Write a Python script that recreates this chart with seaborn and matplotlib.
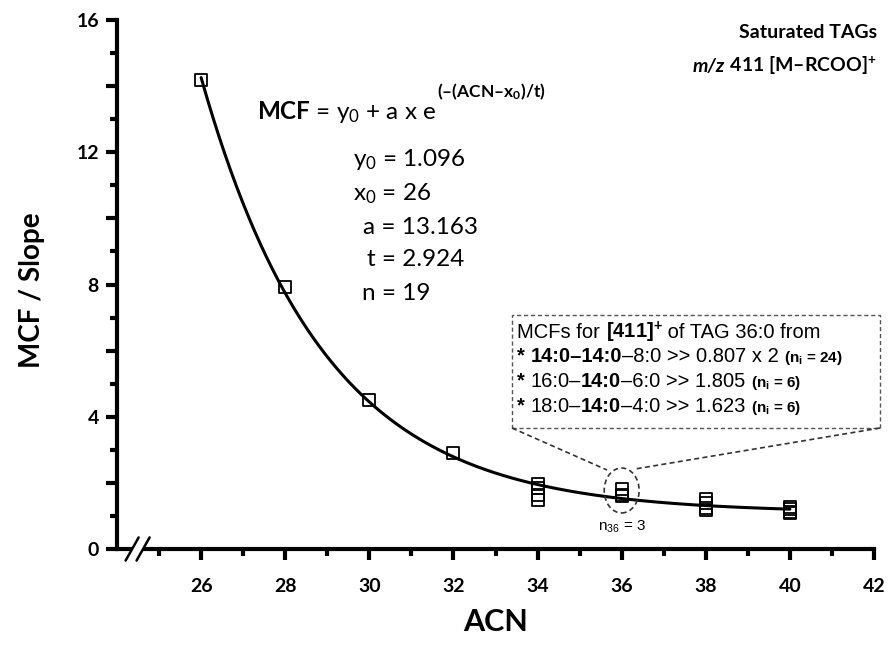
import numpy as np
import matplotlib
matplotlib.use("Agg")
import matplotlib.pyplot as plt
import seaborn as sns
from matplotlib.patches import Ellipse, Rectangle, Polygon
from matplotlib.lines import Line2D
from matplotlib.ticker import FixedLocator, MultipleLocator, FuncFormatter
from matplotlib.offsetbox import TextArea, HPacker, AnnotationBbox

# ---------------------------------------------------------------------------
# Data
# ---------------------------------------------------------------------------
acn = [26, 28, 30, 32,
       34, 34, 34, 34,
       36, 36, 36,
       38, 38, 38, 38,
       40, 40, 40, 40]
mcf = [14.19, 7.93, 4.51, 2.90,
       1.98, 1.85, 1.62, 1.48,
       1.805, 1.623, 1.614,
       1.50, 1.38, 1.25, 1.18,
       1.27, 1.20, 1.12, 1.08]

# fit parameters printed on the chart
y0, x0, a, t = 1.096, 26, 13.163, 2.924
n_points = 19

x_ticks = [26, 28, 30, 32, 34, 36, 38, 40, 42]
x_minor = [25, 27, 29, 31, 33, 35, 37, 39, 41]

# fitted curve from the printed parameters
acn_fit = np.linspace(26, 40, 200)
mcf_fit = y0 + a * np.exp(-(acn_fit - x0) / t)

# ---------------------------------------------------------------------------
# Style
# ---------------------------------------------------------------------------
sns.set_style("ticks")
plt.rcParams['font.family'] = ['Lato', 'DejaVu Sans']
plt.rcParams['mathtext.fontset'] = 'custom'
plt.rcParams['mathtext.rm'] = 'Lato'
plt.rcParams['mathtext.it'] = 'Lato:italic'
plt.rcParams['mathtext.bf'] = 'Lato:bold'
for key in ['text.color', 'axes.labelcolor', 'xtick.color', 'ytick.color', 'axes.edgecolor']:
    plt.rcParams[key] = 'black'

W, H = 889, 648


def px(x, y):
    """reference pixel position -> figure fraction"""
    return x / W, 1 - y / H


fig = plt.figure(figsize=(W / 100, H / 100), dpi=100)
ax = fig.add_axes([117 / W, 1 - 549 / H, (874 - 117) / W, (549 - 20) / H])

sns.lineplot(x=acn_fit, y=mcf_fit, color='black', lw=2.2, ax=ax)
sns.scatterplot(x=acn, y=mcf, marker='s', s=75, facecolor='none',
                edgecolor='black', linewidth=1.3, ax=ax, zorder=3)

ax.set_xlim(24, 42)
ax.set_ylim(0, 16)

# axes, ticks
for side in ['top', 'right']:
    ax.spines[side].set_visible(False)
for side in ['left', 'bottom']:
    ax.spines[side].set_linewidth(3)

ax.xaxis.set_major_locator(FixedLocator(x_ticks))
ax.xaxis.set_minor_locator(FixedLocator(x_minor))
ax.yaxis.set_major_locator(MultipleLocator(2))
ax.yaxis.set_minor_locator(MultipleLocator(1))
ax.yaxis.set_major_formatter(FuncFormatter(lambda v, _: f"{int(v)}" if v % 4 == 0 else ""))
ax.tick_params(which='major', direction='out', length=8, width=3, labelsize=14)
ax.tick_params(which='minor', direction='out', length=5, width=3)
ax.tick_params(axis='x', which='major', pad=13)
ax.tick_params(axis='y', which='major', pad=5)
for lab in ax.get_xticklabels() + ax.get_yticklabels():
    lab.set_fontweight('bold')

ax.set_xlabel('ACN', fontsize=22, fontweight='bold')
ax.set_ylabel('MCF / Slope', fontsize=20, fontweight='bold')
ax.xaxis.set_label_coords(0.5, (549 - 622) / (549 - 20))
ax.xaxis.label.set_va('center')
ax.yaxis.set_label_coords((32 - 117) / (874 - 117), (549 - 290) / (549 - 20))
ax.yaxis.label.set_va('center')

# axis break on the x axis
bx = [24.36, 24.62]
dx, dy = 0.155, 0.35
ax.add_patch(Polygon([(bx[0] - dx, -dy), (bx[1] - dx, -dy), (bx[1] + dx, dy), (bx[0] + dx, dy)],
                     closed=True, fc='white', ec='none', clip_on=False, zorder=5))
for b in bx:
    ax.add_line(Line2D([b - dx, b + dx], [-dy, dy], color='black', lw=1.8,
                       clip_on=False, zorder=6))

# circle round the 36 points
ax.add_patch(Ellipse((36, 1.77), 0.83, 1.36, fill=False, ls=(0, (3, 2)),
                     lw=1.2, ec='#333333', zorder=4))
fig.text(*px(622, 527), '$\\mathregular{n_{36}}$ = 3', ha='center', va='center',
         fontsize=11, family=['Liberation Sans'])

# ---------------------------------------------------------------------------
# Annotations
# ---------------------------------------------------------------------------
fig.text(*px(877, 32), 'Saturated TAGs', ha='right', va='center',
         fontsize=14, fontweight='bold')
title2 = HPacker(children=[
    TextArea('m/z', textprops=dict(fontsize=14, fontweight='bold', fontstyle='italic')),
    TextArea(' 411 [M\u2013RCOO]$^{\\mathregular{+}}$', textprops=dict(fontsize=14, fontweight='bold')),
], align='baseline', pad=0, sep=0)
ax.add_artist(AnnotationBbox(title2, px(877, 66), xycoords='figure fraction',
                             box_alignment=(1, 0.5), frameon=False, pad=0,
                             annotation_clip=False))

# fit equation, exponent placed after the base text
base = fig.text(*px(257, 112), '$\\mathbf{MCF}$ = y$_{\\mathregular{0}}$ + a x e',
                ha='left', va='center', fontsize=17.5)
renderer = fig.canvas.get_renderer()
bb = base.get_window_extent(renderer)
fig.text((bb.x1 + 1) / W, px(0, 92)[1], '(\u2013(ACN\u2013x$_{\\mathregular{0}}$)/t)',
         ha='left', va='center', fontsize=12.5, fontweight='bold')

param_lines = [
    (353, 160, 'y$_{\\mathregular{0}}$ = %.3f' % y0),
    (353, 194, 'x$_{\\mathregular{0}}$ = %d' % x0),
    (363, 227, 'a = %.3f' % a),
    (367, 260, 't = %.3f' % t),
    (362, 293, 'n = %d' % n_points),
]
for xp, yp, s in param_lines:
    fig.text(*px(xp, yp), s, ha='left', va='center', fontsize=17.5)

# dashed callout box
box_l, box_r, box_t, box_b = 512, 880, 315, 428
fig.add_artist(Rectangle(px(box_l, box_b), (box_r - box_l) / W, (box_b - box_t) / H,
                         transform=fig.transFigure, fill=False, ls=(0, (3, 2)),
                         lw=1, ec='#555555'))
for (xa, ya), (xb, yb) in [((box_l, box_b), (607, 470)), ((box_r, box_b), (635, 469))]:
    p1, p2 = px(xa, ya), px(xb, yb)
    fig.add_artist(Line2D([p1[0], p2[0]], [p1[1], p2[1]], transform=fig.transFigure,
                          ls=(0, (3, 2)), lw=1.2, color='#333333'))

ff = ['Liberation Sans', 'DejaVu Sans']
norm = dict(fontsize=14.5, family=ff)
bold = dict(fontsize=14.5, family=ff, fontweight='bold')
small = dict(fontsize=11, family=ff, fontweight='bold')

box_rows = [
    [('MCFs for ', norm), ('[411]$^{\\mathregular{+}}$', bold), (' of TAG 36:0 from', norm)],
    [('* ', bold), ('14:0\u201314:0', bold), ('\u20138:0 >> 0.807 x 2 ', norm),
     ('(n$_{\\mathregular{i}}$ = 24)', small)],
    [('* ', bold), ('16:0\u2013', norm), ('14:0', bold), ('\u20136:0 >> 1.805 ', norm),
     ('(n$_{\\mathregular{i}}$ = 6)', small)],
    [('* ', bold), ('18:0\u2013', norm), ('14:0', bold), ('\u20134:0 >> 1.623 ', norm),
     ('(n$_{\\mathregular{i}}$ = 6)', small)],
]
row_y = [332, 357, 382, 407]
for row, yp in zip(box_rows, row_y):
    pack = HPacker(children=[TextArea(s, textprops=p) for s, p in row],
                   align='baseline', pad=0, sep=0)
    ax.add_artist(AnnotationBbox(pack, px(517, yp), xycoords='figure fraction',
                                 box_alignment=(0, 0.5), frameon=False, pad=0,
                                 annotation_clip=False))

fig.savefig('out.png', dpi=100)
